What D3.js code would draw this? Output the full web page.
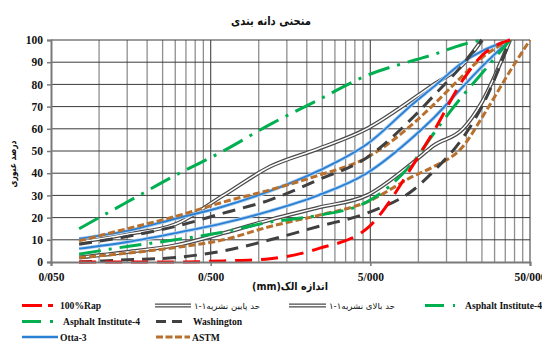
<!DOCTYPE html>
<html>
<head>
<meta charset="utf-8">
<script src="https://cdn.jsdelivr.net/npm/d3@7"></script>
<style>
  html, body { margin: 0; padding: 0; background: #fff; }
  svg { display: block; }
  .num { font-family: "Liberation Serif", "Times New Roman", serif; font-weight: bold; }
  .fa { font-family: "DejaVu Sans", sans-serif; font-weight: bold; }
</style>
</head>
<body>
<script>
// Sieve sizes (mm) and percent passing for each gradation curve
const sieves = [0.075, 0.15, 0.3, 0.6, 1.18, 2.36, 4.75, 9.5, 12.5, 19, 25, 37.5, 50];

const rap100     = [0, 0, 0, 0.5, 1.5, 6, 15, 45, 59, 82, 93, 100, null];
const lowerLimit = [2, 4.5, 7.5, 13, 19, 24.5, 30, 45.5, 52.5, 60, 72, 100, null];
const upperLimit = [9, 12.5, 17, 30, 43, 51, 60, 74, 80, 89, 100, null, null];
const aiUpper    = [15, 27, 39, 50, 62, 73, 84, 91, 93.5, 98, 100, null, null];
const aiLower    = [3.5, 7, 10, 13.5, 18, 21, 27, 46, 58, 75, 85, 100, null];
const washUpper  = [8, 11.5, 16, 22, 28, 37, 47, 66, 75, 89, 100, null, null];
const washLower  = [0, 1, 2, 5, 10, 16, 22, 33, 41, 56, 70, 100, null];
const ottaUpper  = [10.5, 14, 19.5, 25, 32, 41, 53, 72, 79, 90, 95, 100, null];
const ottaLower  = [6, 9, 13, 17.5, 23, 30, 40, 57, 65, 79, 88, 100, null];
const astmUpper  = [9.5, 15, 20.5, 27, 32.5, 39, 47, 63, 71, 84, 92, 100, null];
const astmLower  = [2, 4, 6.5, 10, 16, 21, 27, 39, 43, 52, 65, 86, 100];

// Axis ticks
const xTicks = [0.05, 0.5, 5, 50];
const xTickLabels = ["0/050", "0/500", "5/000", "50/000"];
const yTicks = [0, 10, 20, 30, 40, 50, 60, 70, 80, 90, 100];

// Text
const chartTitle = "منحنی دانه بندی";
const xTitle = "اندازه الک(mm)";
const yTitle = "درصد عبوری";

const W = 542, H = 343;
const svg = d3.select("body").append("svg").attr("width", W).attr("height", H);

const x = d3.scaleLog().domain([0.05, 50]).range([51, 530]);
const y = d3.scaleLinear().domain([0, 100]).range([262, 40]);

// Gridlines: vertical at 2..9 multiples inside each decade plus decade lines, horizontal every 10%
const grid = svg.append("g");
const minorVals = [];
xTicks.slice(0, -1).forEach(b => d3.range(2, 10).forEach(k => minorVals.push(b * k)));
grid.selectAll("line.v").data(minorVals).join("line")
  .attr("x1", d => x(d)).attr("x2", d => x(d))
  .attr("y1", y(0)).attr("y2", y(100))
  .attr("stroke", "#8f8f8f").attr("stroke-width", 1.3);
grid.selectAll("line.m").data(xTicks.slice(1)).join("line")
  .attr("x1", d => x(d)).attr("x2", d => x(d))
  .attr("y1", y(0)).attr("y2", y(100))
  .attr("stroke", "#555").attr("stroke-width", 1.2);
grid.selectAll("line.h").data(yTicks.slice(1)).join("line")
  .attr("x1", x(0.05)).attr("x2", x(50))
  .attr("y1", d => y(d)).attr("y2", d => y(d))
  .attr("stroke", "#3a3a3a").attr("stroke-width", 1);

// Series paths
const line = vals => d3.line()
  .defined(d => d[1] !== null)
  .x(d => x(d[0])).y(d => y(d[1]))
  .curve(d3.curveMonotoneX)(sieves.map((s, i) => [s, vals[i]]));

const plot = svg.append("g");

function doubleLine(g, d) {
  g.append("path").attr("d", d).attr("fill", "none").attr("stroke", "#4a4a4a").attr("stroke-width", 4);
  g.append("path").attr("d", d).attr("fill", "none").attr("stroke", "#ffffff").attr("stroke-width", 1.5);
}
function blueLine(g, d) {
  g.append("path").attr("d", d).attr("fill", "none").attr("stroke", "#b3d2f0").attr("stroke-width", 3.6);
  g.append("path").attr("d", d).attr("fill", "none").attr("stroke", "#2a80d4").attr("stroke-width", 1.9);
}
function styled(g, d, color, width, dash) {
  g.append("path").attr("d", d).attr("fill", "none").attr("stroke", color)
    .attr("stroke-width", width).attr("stroke-dasharray", dash);
}

doubleLine(plot, line(lowerLimit));
doubleLine(plot, line(upperLimit));
blueLine(plot, line(ottaUpper));
blueLine(plot, line(ottaLower));
styled(plot, line(astmUpper), "#b8702e", 3, "7,3");
styled(plot, line(astmLower), "#b8702e", 3, "7,3");
styled(plot, line(washUpper), "#404040", 3, "13,8");
styled(plot, line(washLower), "#404040", 3, "13,8");
styled(plot, line(aiUpper), "#00b050", 3, "22,8,3,8");
styled(plot, line(aiLower), "#00b050", 3, "22,8,3,8");
styled(plot, line(rap100), "#ff0000", 3, "17,9");

// Axes
const yAxis = svg.append("g").attr("transform", `translate(${x(0.05)},0)`)
  .call(d3.axisLeft(y).tickValues(yTicks).tickSize(4).tickPadding(4).tickFormat(d3.format("d")));
const xAxis = svg.append("g").attr("transform", `translate(0,${y(0)})`)
  .call(d3.axisBottom(x).tickValues(xTicks).tickSize(4).tickPadding(7)
    .tickFormat((d, i) => xTickLabels[i]));
[yAxis, xAxis].forEach(a => {
  a.select(".domain").attr("stroke", "#7a7a7a").attr("stroke-width", 2);
  a.selectAll(".tick line").attr("stroke", "#7a7a7a").attr("stroke-width", 1.5);
  a.selectAll(".tick text").attr("class", "num").attr("fill", "#111").style("font-size", "11.5px");
});

// Persian text: embedded right-to-left run inside a left-to-right text element
const RLE = "\u202B", PDF = "\u202C";
function faText(parent, txt, size, weight, anchor, len) {
  const t = parent.append("text").attr("class", "fa").attr("text-anchor", anchor)
    .style("font-size", size + "px").style("font-weight", weight).attr("fill", "#111")
    .text(RLE + txt + PDF);
  if (len) t.attr("textLength", len).attr("lengthAdjust", "spacingAndGlyphs");
  return t;
}

faText(svg, chartTitle, 12, "bold", "middle", 80).attr("x", 271).attr("y", 25);
faText(svg, xTitle, 11, "bold", "middle", 76).attr("x", 290).attr("y", 290);
faText(svg.append("g").attr("transform", "translate(16,164) rotate(-90)"), yTitle, 10, "bold", "middle", 47);

// Legend
const legend = [
  { x0: 22, x1: 53, row: 0, kind: "red", label: "100%Rap", tx: 60, fa: false },
  { x0: 155, x1: 191, row: 0, kind: "double", label: "حد پایین نشریه۱-۱", tx: 194, fa: true },
  { x0: 289, x1: 326, row: 0, kind: "double", label: "حد بالای نشریه۱-۱", tx: 329, fa: true },
  { x0: 425, x1: 455, row: 0, kind: "green", label: "Asphalt Institute-4", tx: 465, fa: false },
  { x0: 22, x1: 54, row: 1, kind: "green", label: "Asphalt Institute-4", tx: 63, fa: false },
  { x0: 156, x1: 183, row: 1, kind: "wash", label: "Washington", tx: 193, fa: false },
  { x0: 22, x1: 58, row: 2, kind: "blue", label: "Otta-3", tx: 60, fa: false },
  { x0: 156, x1: 190, row: 2, kind: "astm", label: "ASTM", tx: 192, fa: false }
];
const rowY = [305.5, 321.5, 337];
const lg = svg.append("g");
legend.forEach(item => {
  const yy = rowY[item.row];
  const d = `M${item.x0},${yy}H${item.x1}`;
  if (item.kind === "double") doubleLine(lg, d);
  else if (item.kind === "blue") blueLine(lg, d);
  else if (item.kind === "red") styled(lg, d, "#ff0000", 3, "20,6");
  else if (item.kind === "green") styled(lg, d, "#00b050", 3, "19,9,3,40");
  else if (item.kind === "wash") styled(lg, d, "#404040", 3, "10,6");
  else if (item.kind === "astm") styled(lg, d, "#b8702e", 3, "7,2.5");
  if (item.fa) {
    faText(lg, item.label, 8.5, "normal", "start", 66).attr("x", item.tx).attr("y", yy + 3);
  } else {
    lg.append("text").attr("class", "num").attr("x", item.tx).attr("y", yy + 3.5)
      .attr("fill", "#111").style("font-size", "9.6px").text(item.label);
  }
});
</script>
</body>
</html>
